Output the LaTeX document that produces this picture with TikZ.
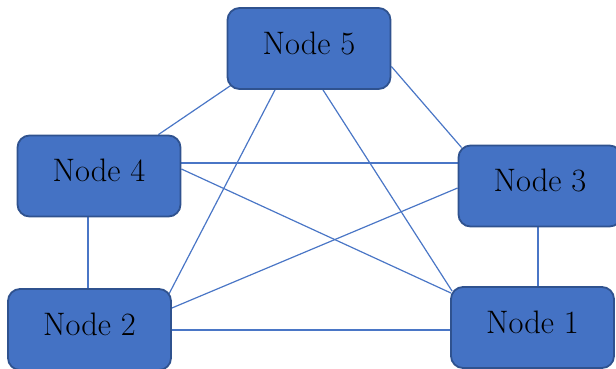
\documentclass[tikz,border=0pt]{standalone}
\usepackage{fontspec}
\usetikzlibrary{calc,backgrounds}
\definecolor{boxfill}{HTML}{4472C4}
\definecolor{boxedge}{HTML}{2F528F}
\definecolor{linkcol}{HTML}{4A76C6}
\begin{document}
\begin{tikzpicture}[x=1pt,y=-1pt,
  nodebox/.style={draw=boxedge, line width=1.8pt, fill=boxfill, rounded corners=12pt,
    minimum width=163pt, minimum height=81pt, inner sep=0pt,
    text height=22pt, text depth=11pt,
    font=\fontsize{32.5}{36}\selectfont, text=black},
  link/.style={draw=linkcol, line width=1.2pt}]
  \useasboundingbox (0,0) rectangle (616,368);
  \clip (0,0) rectangle (616,368);

  % the five nodes
  \node[nodebox] (n5) at (309,48.5) {Node 5};
  \node[nodebox] (n4) at (99,176) {Node 4};
  \node[nodebox] (n3) at (540,186) {Node 3};
  \node[nodebox] (n2) at (89.5,329.5) {Node 2};
  \node[nodebox] (n1) at (532.5,327.5) {Node 1};

  % connections, kept behind the boxes
  \begin{scope}[on background layer]
    \draw[link] ($(n5.south west)+(5,-5)$) -- ($(n4.north east)+(-23,0)$);
    \draw[link] ($(n5.south)+(-34,0)$) -- ($(n2.north east)+(-3,6)$);
    \draw[link] ($(n5.south)+(14,0)$) -- ($(n1.north west)+(2,5)$);
    \draw[link] ($(n5.east)+(0,18)$) -- ($(n3.north west)+(4,3)$);
    \draw[link] ($(n4.east)+(0,-13)$) -- ($(n3.west)+(0,-23)$);
    \draw[link] ($(n4.east)+(0,-7)$) -- ($(n1.north west)+(1,7)$);
    \draw[link] ($(n4.south)+(-11,0)$) -- ($(n2.north)+(-1.5,0)$);
    \draw[link] ($(n3.west)+(0,2)$) -- ($(n2.east)+(0,-21.5)$);
    \draw[link] ($(n3.south)+(-2,0)$) -- ($(n1.north)+(5.5,0)$);
    \draw[link] ($(n2.east)+(0,0.5)$) -- ($(n1.west)+(0,2.5)$);
  \end{scope}
\end{tikzpicture}
\end{document}
